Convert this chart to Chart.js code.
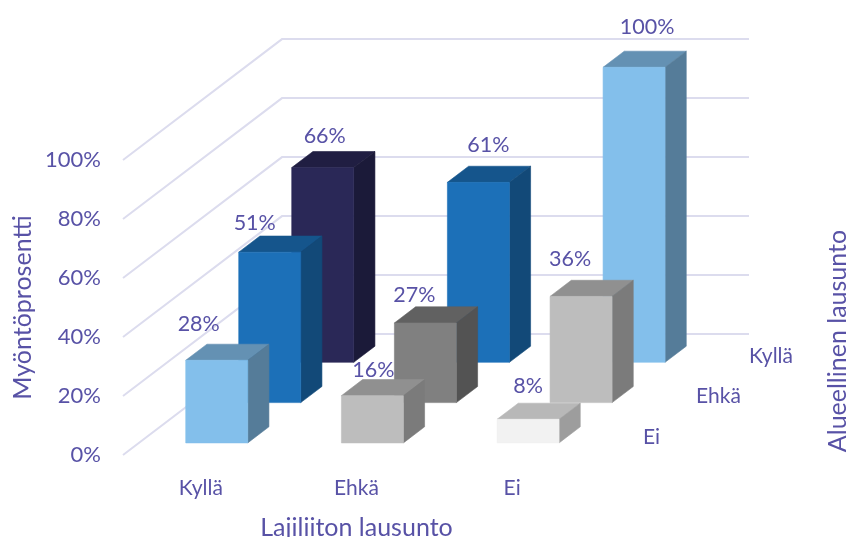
<!DOCTYPE html>
<html>
<head>
<meta charset="utf-8">
<title>Myöntöprosentti</title>
<script src="https://cdn.jsdelivr.net/npm/chart.js@4/dist/chart.umd.js"></script>
<style>
  html, body { margin: 0; background: #fff; }
  canvas { display: block; }
</style>
</head>
<body>
<canvas id="chart" width="848" height="537"></canvas>
<script>
// ======= Data =======
const categories = ['Kyllä', 'Ehkä', 'Ei'];
const tickValues = [0, 20, 40, 60, 80, 100];
const seriesEi = [28, 16, 8];
const seriesEhka = [51, 27, 36];
const seriesKylla = [66, 61, 100];

// ======= Look =======
const TEXT = '#5852a6';
const GRID = '#dcdcee';
const FONT = 'Lato, "Open Sans", sans-serif';
const LIGHT = '#83bfeb', BLUE = '#1c70b8', NAVY = '#2a2857';
const PALE = '#f2f2f2', GREY = '#bdbdbd', DARK = '#808080';

// oblique projection, one step = one row going backwards
const STEP_X = 53, STEP_Y = -40.3;
const ROW_START = 0.3, ROW_DEPTH = 0.4, ROWS = 3;

// value labels do not sit in a regular place in the original
const labelShift = [
  [[-18, -36], [1, -26], [0, -33]],
  [[-15, -29], [-11, -28], [-11, -37]],
  [[2, -32], [10, -37], [13, -40]]
];

function shade(hex, k) {
  const n = parseInt(hex.slice(1), 16);
  const c = [n >> 16, (n >> 8) & 255, n & 255].map(v => Math.round(v * k));
  return `rgb(${c.join(',')})`;
}

function face(ctx, pts, color) {
  ctx.beginPath();
  pts.forEach((p, i) => i ? ctx.lineTo(p[0], p[1]) : ctx.moveTo(p[0], p[1]));
  ctx.closePath();
  ctx.fillStyle = color;
  ctx.strokeStyle = color;
  ctx.lineWidth = 0.6; // hides the seams between faces
  ctx.fill();
  ctx.stroke();
}

function drawWalls(chart) {
  const { ctx, chartArea, scales } = chart;
  const backX = ROWS * STEP_X, backY = ROWS * STEP_Y;
  ctx.strokeStyle = GRID;
  ctx.lineWidth = 2;
  tickValues.forEach(v => {
    const y = scales.y.getPixelForValue(v);
    ctx.beginPath();
    ctx.moveTo(chartArea.left, y);
    ctx.lineTo(chartArea.left + backX, y + backY);
    ctx.lineTo(chartArea.right + backX, y + backY);
    ctx.stroke();
  });
}

function drawPrism(ctx, bar, color, row) {
  const shiftX = (ROW_START + row) * STEP_X, shiftY = (ROW_START + row) * STEP_Y;
  const l = bar.x - bar.width / 2 + shiftX, r = bar.x + bar.width / 2 + shiftX;
  const t = bar.y + shiftY, b = bar.base + shiftY;
  const dx = ROW_DEPTH * STEP_X, dy = ROW_DEPTH * STEP_Y;
  face(ctx, [[l, t], [r, t], [r + dx, t + dy], [l + dx, t + dy]], shade(color, 0.76));
  face(ctx, [[r, b], [r + dx, b + dy], [r + dx, t + dy], [r, t]], shade(color, 0.65));
  face(ctx, [[l, b], [r, b], [r, t], [l, t]], color);
}

const prisms = {
  id: 'prisms',
  beforeDatasetsDraw(chart) {
    const { ctx } = chart;
    ctx.save();
    drawWalls(chart);
    // back row first so the front rows cover it
    for (let row = chart.data.datasets.length - 1; row >= 0; row--) {
      const ds = chart.data.datasets[row];
      chart.getDatasetMeta(row).data.forEach((bar, i) => {
        drawPrism(ctx, bar, ds.backgroundColor[i], row);
      });
    }
    ctx.fillStyle = TEXT;
    ctx.font = `21.5px ${FONT}`;
    ctx.textAlign = 'center';
    ctx.textBaseline = 'middle';
    chart.data.datasets.forEach((ds, row) => {
      const shiftX = (ROW_START + row) * STEP_X, shiftY = (ROW_START + row) * STEP_Y;
      chart.getDatasetMeta(row).data.forEach((bar, i) => {
        const s = labelShift[row][i];
        ctx.fillText(ds.data[i] + '%', bar.x + shiftX + s[0], bar.y + shiftY + s[1]);
      });
    });
    // depth axis: row names and its title
    const { chartArea, scales } = chart;
    ctx.textAlign = 'left';
    ctx.font = `21px ${FONT}`;
    chart.data.datasets.forEach((ds, row) => {
      const y = scales.y.getPixelForValue(0) + (ROW_START + row) * STEP_Y - 6;
      ctx.fillText(ds.label, chartArea.right + (ROW_START + row + 0.7) * STEP_X, y);
    });
    ctx.translate(838, 341);
    ctx.rotate(-Math.PI / 2);
    ctx.textAlign = 'center';
    ctx.font = `25px ${FONT}`;
    ctx.fillText('Alueellinen lausunto', 0, 0);
    ctx.restore();
    return false; // prisms replace the flat bars
  }
};

// ======= Chart =======
new Chart(document.getElementById('chart'), {
  type: 'bar',
  data: {
    labels: categories,
    datasets: [
      { label: 'Ei', data: seriesEi, backgroundColor: [LIGHT, GREY, PALE] },
      { label: 'Ehkä', data: seriesEhka, backgroundColor: [BLUE, DARK, GREY] },
      { label: 'Kyllä', data: seriesKylla, backgroundColor: [NAVY, BLUE, LIGHT] }
    ]
  },
  plugins: [prisms],
  options: {
    responsive: false,
    animation: false,
    layout: { padding: { left: 8, right: 258, top: 160, bottom: 0 } },
    datasets: { bar: { grouped: false, barThickness: 62 } },
    plugins: { legend: { display: false }, tooltip: { enabled: false } },
    scales: {
      x: {
        grid: { display: false },
        border: { display: false },
        ticks: { color: TEXT, font: { family: FONT, size: 21 }, padding: 13, maxRotation: 0 },
        title: { display: true, text: 'Lajiliiton lausunto', color: TEXT, font: { family: FONT, size: 25, lineHeight: 1 }, padding: { top: 0, bottom: -3 } },
        afterFit(scale) { scale.height = 82; }
      },
      y: {
        min: 0,
        max: 100,
        grid: { display: false },
        border: { display: false },
        ticks: { color: TEXT, font: { family: FONT, size: 22 }, padding: 14, stepSize: 20, callback: v => v + '%' },
        title: { display: true, text: 'Myöntöprosentti', color: TEXT, font: { family: FONT, size: 25 }, padding: { top: 0, bottom: 0 } },
        afterFit(scale) { scale.width = 115; }
      }
    }
  }
});
</script>
</body>
</html>
